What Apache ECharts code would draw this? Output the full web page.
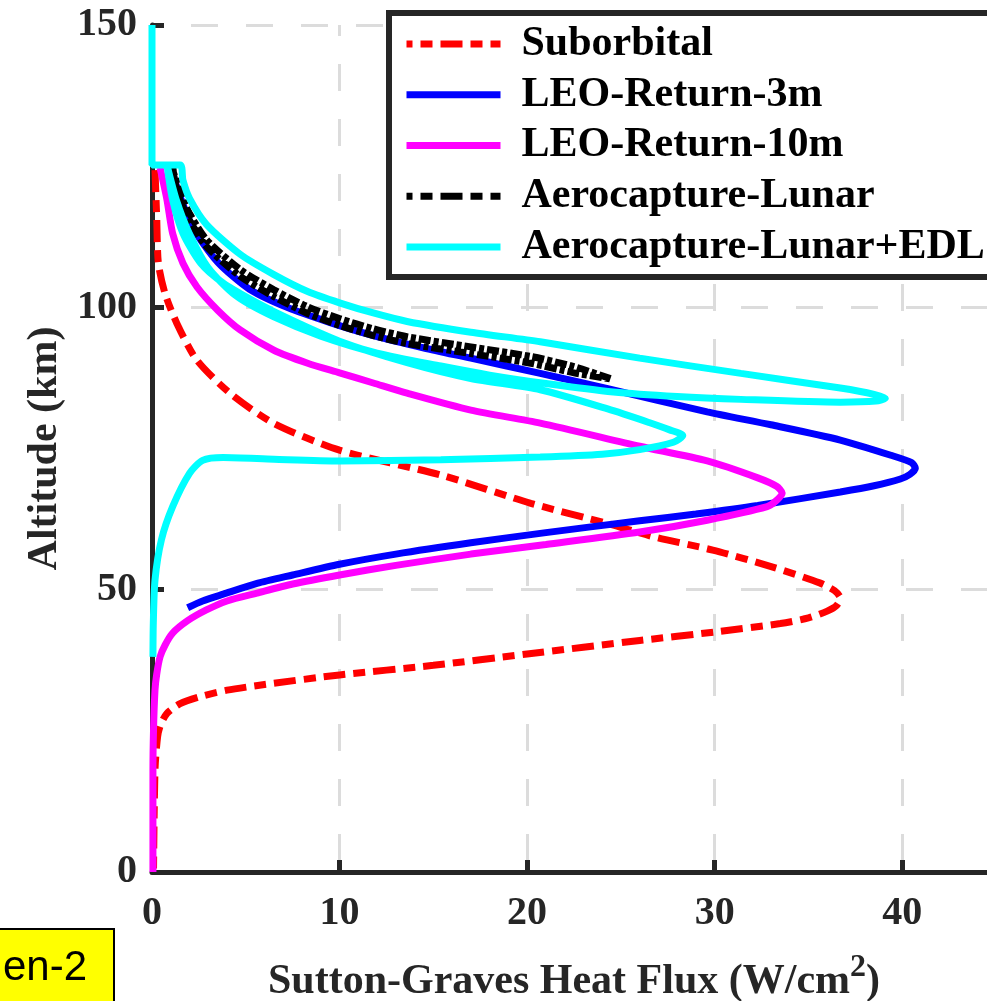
<!DOCTYPE html>
<html>
<head>
<meta charset="utf-8">
<script src="https://cdn.jsdelivr.net/npm/echarts@6/dist/echarts.min.js"></script>
<style>
html,body{margin:0;padding:0;background:#fff;}
#chart{width:987px;height:1001px;}
</style>
</head>
<body>
<div id="chart"></div>
<script>
// ---- data (x = heat flux W/cm^2, y = altitude km) ----
const seriesNames = ['Suborbital','LEO-Return-3m','LEO-Return-10m','Aerocapture-Lunar','Aerocapture-Lunar+EDL'];

const suborbitalFlux = [0.16,0.25,0.34,0.69,1.32,2.38,4.16,6.47,10.0,15.4,20.2,24.3,26.7,29.9,33.1,35.6,36.4,36.7,36.5,36.0,35.0,33.5,30.0,26.0,20.0,15.0,10.0,6.0,4.0,2.5,1.5,0.8,0.45,0.3,0.16,0.08];
const suborbitalAlt  = [124.3,116,107.8,102.5,97.2,90.7,84.8,79.5,74.7,70.3,65.3,61.7,59.4,57.0,54.0,51.2,49.8,48.5,47.2,46.2,45.0,44.0,42.5,41.0,38.6,36.6,34.9,33.2,32.2,31.0,29.8,28.1,26.0,24.0,18.1,0];

const leo3Flux = [0.96,1.4,2.2,3.5,5.2,7.2,9.5,11.8,14.5,17.0,20.7,24.3,29.6,33.0,36.7,39.4,40.5,40.7,40.4,39.9,38.5,36.7,32.3,29.0,26.0,21.0,17.0,13.0,10.0,7.5,5.6,3.8,2.7,1.9];
const leo3Alt  = [125.5,120.5,114.0,108.0,103.2,100.0,97.3,95.0,92.8,91.0,88.3,85.6,81.5,79.2,76.5,73.8,72.5,71.5,70.4,69.6,68.4,67.3,64.9,63.4,62.2,60.1,58.3,56.3,54.5,52.6,51.1,49.2,48.0,46.8];

const leo10Flux = [0.43,0.8,1.1,1.65,2.4,3.5,4.7,6.5,8.3,10.0,11.8,13.6,17.0,20.7,26.0,29.6,32.3,33.3,33.6,33.3,32.8,29.6,26.0,21.0,17.0,13.0,10.0,7.5,5.6,4.0,2.9,1.9,1.1,0.7,0.43,0.25,0.16,0.08,0.05,0.05];
const leo10Alt  = [124.7,119.0,113.1,107.8,103.6,99.5,96.0,92.4,90.1,88.4,86.6,84.8,81.8,79.5,75.4,72.8,69.8,68.3,67.1,65.8,64.7,62.3,60.2,58.0,56.3,54.3,52.6,51.0,49.4,48.0,46.4,44.5,42.3,40.2,38.1,35.0,32.2,25.0,18.0,0];

const aeroFlux = [1.0,1.6,2.0,2.9,4.7,6.5,8.3,10.0,11.8,13.6,17.0,20.2,22.5,24.5,22.5,20.2,17.0,13.6,11.8,10.0,8.3,6.5,4.7,2.9,2.0,1.5,1.2,1.1];
const aeroAlt  = [125.3,119.5,116.6,112.0,106.7,103.1,100.1,98.0,96.2,94.8,93.0,91.3,89.5,87.3,88.4,90.1,91.8,93.6,95.0,96.8,98.9,101.9,105.5,110.8,115.4,119.0,122.5,125.3];

const edlFlux = [0,0,1.5,1.65,2.0,2.9,4.7,6.5,8.3,10.0,11.8,13.6,17.0,20.7,26.0,31.4,36.7,38.5,39.1,38.6,36.7,31.4,28.0,24.6,21.0,18.0,15.4,12.0,9.0,6.5,4.5,3.0,2.0,1.3,0.8,
                 1.1,1.65,2.6,3.8,5.6,7.4,10.0,13.6,17.0,20.7,24.3,26.5,27.6,28.3,27.8,26.0,24.0,20.7,15.4,10.0,6.5,3.8,2.7,2.0,1.1,0.5,0.16,0.07,0.05];
const edlAlt  = [150,125.2,125.2,122.5,119.3,114.7,109.4,105.8,102.8,100.8,99.0,97.5,95.6,93.9,91.0,88.3,85.7,84.6,83.9,83.4,83.2,83.7,84.2,85.0,86.5,88.0,89.6,91.9,94.9,98.3,102.0,107.0,113.0,119.0,125.2,
                 119.0,113.1,107.8,104.3,100.8,97.8,94.0,90.2,87.4,85.4,82.0,79.6,78.3,77.3,76.1,74.8,74.0,73.5,73.0,72.8,73.1,73.4,72.9,70.6,64.7,58.8,51.7,44.1,38.1];

const xRange = [0, 45, 10];
const yRange = [0, 150, 50];

function zip(a, b) { return a.map((v, i) => [v, b[i]]); }

const colors = ['#ff0000', '#0000ff', '#ff00ff', '#000000', '#00ffff'];
const dataSets = [zip(suborbitalFlux, suborbitalAlt), zip(leo3Flux, leo3Alt), zip(leo10Flux, leo10Alt), zip(aeroFlux, aeroAlt), zip(edlFlux, edlAlt)];
const legendDash = [22, 8, 12, 8];
const dashes = [legendDash, 'solid', 'solid', [12, 3, 5, 3], 'solid'];

const serif = "'Liberation Serif','Times New Roman',serif";

const chart = echarts.init(document.getElementById('chart'), null, {renderer: 'canvas'});
chart.setOption({
  animation: false,
  backgroundColor: '#ffffff',
  grid: {left: 152, top: 25, bottom: 129, right: -9, containLabel: false, outerBoundsMode: 'none'},
  xAxis: {
    type: 'value', min: xRange[0], max: xRange[1], interval: xRange[2],
    axisLine: {lineStyle: {color: '#262626', width: 5}},
    axisTick: {inside: true, length: 12, lineStyle: {color: '#262626', width: 5}},
    axisLabel: {showMaxLabel: false, margin: 22, color: '#262626', fontFamily: serif, fontWeight: 'bold', fontSize: 40},
    splitLine: {show: true, lineStyle: {color: '#dcdcdc', width: 3, type: [27, 28], dashOffset: 16}},
    name: '{a|Sutton-Graves Heat Flux (W/cm}{s|2}{a|)}',
    nameLocation: 'middle', nameGap: 80,
    nameTextStyle: {
      rich: {
        a: {fontFamily: serif, fontWeight: 'bold', fontSize: 42, color: '#262626', verticalAlign: 'bottom'},
        s: {fontFamily: serif, fontWeight: 'bold', fontSize: 32, color: '#262626', verticalAlign: 'bottom', padding: [0, 0, 19, 0]}
      }
    }
  },
  yAxis: {
    type: 'value', min: yRange[0], max: yRange[1], interval: yRange[2],
    axisLine: {lineStyle: {color: '#262626', width: 5}},
    axisTick: {inside: true, length: 12, lineStyle: {color: '#262626', width: 5}},
    axisLabel: {margin: 15, color: '#262626', fontFamily: serif, fontWeight: 'bold', fontSize: 40,
                verticalAlignMinLabel: 'middle', verticalAlignMaxLabel: 'middle'},
    splitLine: {show: true, lineStyle: {color: '#dcdcdc', width: 3, type: [27, 28], dashOffset: 16}},
    name: 'Altitude (km)', nameLocation: 'middle', nameGap: 85, nameRotate: 90,
    nameTextStyle: {fontFamily: serif, fontWeight: 'bold', fontSize: 42, color: '#262626'}
  },
  legend: {
    orient: 'vertical', left: 388, top: 10, z: 60,
    padding: [13, 10, 9, 15],
    itemWidth: 94, itemHeight: 14, itemGap: 8.75,
    borderWidth: 0, backgroundColor: 'transparent',
    itemStyle: {opacity: 0},
    lineStyle: {width: 7},
    textStyle: {fontFamily: serif, fontWeight: 'bold', fontSize: 42, color: '#000', padding: [0, 0, 0, 16]},
    data: seriesNames.map((n, i) => i === 3 ? {name: n, lineStyle: {type: legendDash, width: 7}} : {name: n})
  },
  series: seriesNames.map((n, i) => ({
    name: n, type: 'line', data: dataSets[i], showSymbol: false, symbol: 'none',
    smooth: 0.25, z: 2 + i,
    lineStyle: {color: colors[i], width: 7, type: dashes[i], cap: 'butt'},
    itemStyle: {color: colors[i]}
  })),
  graphic: [
    {type: 'rect', x: 389, y: 13, z: 50, shape: {width: 700, height: 264}, style: {fill: '#ffffff', stroke: '#262626', lineWidth: 6}},
    {type: 'rect', left: -5, top: 928, shape: {width: 118, height: 90}, style: {fill: '#ffff00', stroke: '#000', lineWidth: 2}, z: 100},
    {type: 'text', x: 87, y: 968, style: {text: 'en-2', fontFamily: "'Liberation Sans',Arial,sans-serif", fontSize: 42, fill: '#000', align: 'right', verticalAlign: 'middle'}, z: 101}
  ]
});
</script>
</body>
</html>
